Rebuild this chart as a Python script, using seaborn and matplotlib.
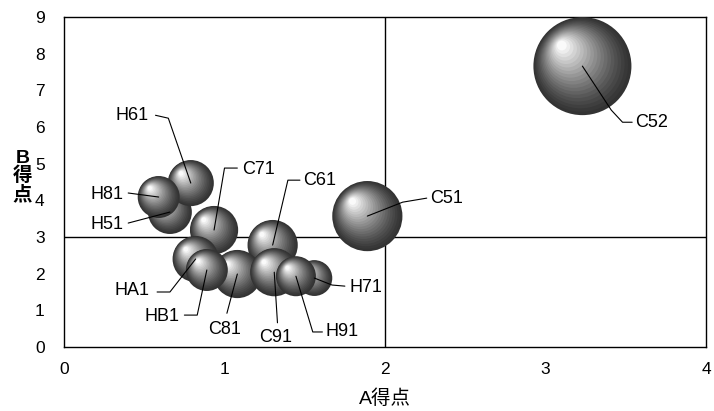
import numpy as np
import pandas as pd
import matplotlib
matplotlib.use("Agg")
import matplotlib.pyplot as plt
import seaborn as sns
from matplotlib.path import Path
from matplotlib.markers import MarkerStyle

# ---------------- data ----------------
names   = ["C52", "C51", "H51", "H61", "H81", "C71", "C61", "H71", "C81", "HA1", "HB1", "C91", "H91"]
a_score = [3.23, 1.89, 0.66, 0.79, 0.59, 0.935, 1.30, 1.56, 1.08, 0.82, 0.89, 1.31, 1.445]
b_score = [7.66, 3.57, 3.68, 4.47, 4.09, 3.19, 2.78, 1.88, 1.99, 2.40, 2.10, 2.04, 1.93]
bubble  = [24.0, 12.3, 4.8, 5.3, 4.4, 5.8, 6.3, 3.2, 5.8, 5.3, 4.4, 5.8, 4.0]

x_ticks = [0, 1, 2, 3, 4]
y_ticks = list(range(10))
x_label = "A得点"
y_label = "B\n得\n点"

df = pd.DataFrame({"name": names, "A": a_score, "B": b_score, "size": bubble})

# ---------------- layout (label placement) ----------------
label_layout = {
    "C52": dict(xy=(3.56, 6.13), ha="left",  path=[(3.54, 6.13), (3.48, 6.13), (3.41, 6.46)]),
    "C51": dict(xy=(2.28, 4.06), ha="left",  path=[(2.26, 4.06), (2.11, 3.95)]),
    "H61": dict(xy=(0.53, 6.32), ha="right", path=[(0.57, 6.32), (0.65, 6.24)]),
    "H81": dict(xy=(0.37, 4.17), ha="right", path=[(0.40, 4.20)]),
    "H51": dict(xy=(0.37, 3.35), ha="right", path=[(0.40, 3.38)]),
    "C71": dict(xy=(1.11, 4.85), ha="left",  path=[(1.08, 4.88), (1.00, 4.88)]),
    "C61": dict(xy=(1.49, 4.55), ha="left",  path=[(1.47, 4.55), (1.395, 4.55)]),
    "H71": dict(xy=(1.78, 1.63), ha="left",  path=[(1.75, 1.66), (1.67, 1.69)]),
    "H91": dict(xy=(1.63, 0.41), ha="left",  path=[(1.61, 0.41), (1.55, 0.41)]),
    "C91": dict(xy=(1.32, 0.27), ha="center", path=[(1.33, 0.66)]),
    "C81": dict(xy=(1.00, 0.49), ha="center", path=[(1.015, 0.92)]),
    "HB1": dict(xy=(0.72, 0.84), ha="right", path=[(0.75, 0.87), (0.83, 0.87)]),
    "HA1": dict(xy=(0.535, 1.53), ha="right", path=[(0.58, 1.50), (0.66, 1.50)]),
}

# ---------------- style ----------------
sns.set_theme(style="white")
plt.rcParams["font.family"] = ["Liberation Sans", "Noto Sans CJK JP", "DejaVu Sans"]

fig = plt.figure(figsize=(7.14, 4.11), dpi=100)
ax = fig.add_axes([64 / 714, 1 - 347 / 411, 642 / 714, 330 / 411])

S_PER_UNIT = 207.5  # pt^2 per bubble-size unit


def layer_marker(t):
    r = 1 - 0.90 * t
    cx, cy = -0.42 * t, 0.42 * t
    circ = Path.circle((cx, cy), r)
    verts = np.vstack([[[-1, -1], [1, 1]], circ.vertices])
    codes = np.concatenate([[Path.MOVETO, Path.MOVETO], circ.codes])
    return MarkerStyle(Path(verts, codes))


N_LAYERS = 20
layers = []
for j in range(N_LAYERS):
    t = j / (N_LAYERS - 1)
    g = 0.20 + 0.78 * t ** 1.25
    layers.append((layer_marker(t), (g, g, g)))

for i, row in df.iterrows():
    sub = df.iloc[[i]]
    for j, (mk, col) in enumerate(layers):
        sns.scatterplot(data=sub, x="A", y="B", s=row["size"] * S_PER_UNIT,
                        marker=mk, color=col, edgecolor="none", linewidth=0,
                        legend=False, ax=ax, zorder=3 + i + j / 100)

# reference lines
ax.axhline(3, color="black", lw=1.0, zorder=1)
ax.axvline(2, color="black", lw=1.0, zorder=1)

# labels with leader lines
for _, row in df.iterrows():
    lay = label_layout[row["name"]]
    pts = lay["path"] + [(row["A"], row["B"])]
    xs, ys = zip(*pts)
    ax.plot(xs, ys, color="black", lw=0.8, zorder=50)
    ax.text(lay["xy"][0], lay["xy"][1], row["name"], ha=lay["ha"], va="center",
            fontsize=13, color="black", zorder=51)

ax.set_xlim(0, 4)
ax.set_ylim(0, 9)
ax.set_xticks(x_ticks)
ax.set_yticks(y_ticks)
ax.tick_params(direction="in", length=4, width=1, labelsize=12.5, color="black",
               labelcolor="black")
ax.tick_params(axis="y", pad=14)
ax.tick_params(axis="x", pad=11)
for sp in ax.spines.values():
    sp.set_color("black")
    sp.set_linewidth(1.0)

ax.set_xlabel(x_label, fontsize=14, color="black", labelpad=9)
ax.set_ylabel(y_label, fontsize=14, rotation=0, color="black", fontweight="bold",
              linespacing=1.0, va="center", ha="center")
ax.yaxis.set_label_coords(-0.065, 0.515)

fig.savefig("out.png", dpi=100, facecolor="white")
